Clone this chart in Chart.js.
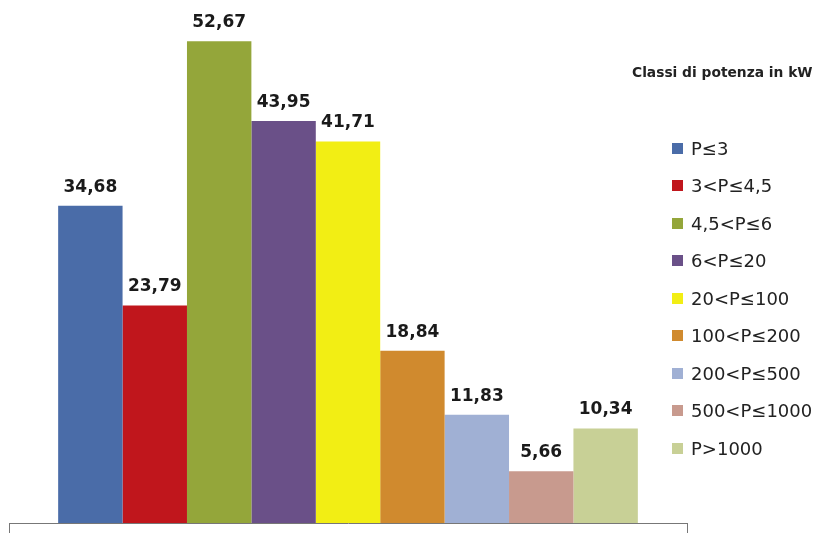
<!DOCTYPE html>
<html>
<head>
<meta charset="utf-8">
<script src="https://cdn.jsdelivr.net/npm/chart.js@4.4.1/dist/chart.umd.min.js"></script>
<style>
  html, body { margin: 0; padding: 0; background: #fff; }
  #wrap { position: relative; width: 818px; height: 533px; }
  #legend { position: absolute; left: 0; top: 0; width: 818px; height: 533px; pointer-events: none;
            font-family: "DejaVu Sans", sans-serif; color: #222; }
  #legend .title { position: absolute; left: 632px; top: 64px; font-size: 13.8px; font-weight: bold; white-space: nowrap; }
  #legend .item { position: absolute; left: 672px; height: 20px; display: flex; align-items: center;
                  font-size: 18px; white-space: nowrap; }
  #legend .box { width: 11px; height: 11px; margin-right: 8px; }
</style>
</head>
<body>
<div id="wrap">
  <canvas id="chart" width="818" height="533"></canvas>
  <div id="legend"></div>
</div>
<script>
// Classi di potenza (kW) e valori percentuali
const classes = ["P≤3", "3<P≤4,5", "4,5<P≤6", "6<P≤20", "20<P≤100",
                 "100<P≤200", "200<P≤500", "500<P≤1000", "P>1000"];
const values = [34.68, 23.79, 52.67, 43.95, 41.71, 18.84, 11.83, 5.66, 10.34];
const colors = ["#4a6ca8", "#c0161c", "#94a63a", "#6a5088", "#f2ee14",
                "#d08a2e", "#a0b0d4", "#c89a8e", "#c8d096"];
const legendTitle = "Classi di potenza in kW";

const fmt = (v) => v.toFixed(2).replace(".", ",");

// etichette dei valori sopra le barre
const valueLabels = {
  id: "valueLabels",
  afterDatasetsDraw(chart) {
    const ctx = chart.ctx;
    ctx.save();
    ctx.font = "bold 17px 'DejaVu Sans', sans-serif";
    ctx.fillStyle = "#1a1a1a";
    ctx.textAlign = "center";
    ctx.textBaseline = "bottom";
    chart.data.datasets.forEach((ds, i) => {
      const bar = chart.getDatasetMeta(i).data[0];
      ctx.fillText(fmt(ds.data[0]), bar.x, bar.y - 10);
    });
    ctx.restore();
  },
};

const chart = new Chart(document.getElementById("chart"), {
  type: "bar",
  data: {
    labels: [""],
    datasets: classes.map((c, i) => ({
      label: c,
      data: [values[i]],
      backgroundColor: colors[i],
      borderWidth: 0,
      categoryPercentage: 0.855,
      barPercentage: 1,
    })),
  },
  options: {
    responsive: false,
    animation: false,
    layout: { padding: { top: 20, left: 9, right: 131, bottom: 0 } },
    plugins: {
      legend: { display: false },
      tooltip: { enabled: false },
    },
    scales: {
      x: {
        grid: { drawOnChartArea: false, drawTicks: true, tickLength: 10, color: "#777", lineWidth: 1 },
        border: { display: true, color: "#777", width: 1 },
        ticks: { display: false },
      },
      y: { display: false, min: 0, max: 55 },
    },
  },
  plugins: [valueLabels],
});

// legenda a destra
const legendEl = document.getElementById("legend");
const t = document.createElement("div");
t.className = "title";
t.textContent = legendTitle;
legendEl.appendChild(t);
chart.data.datasets.forEach((ds, i) => {
  const it = document.createElement("div");
  it.className = "item";
  it.style.top = (138 + i * 37.5) + "px";
  const b = document.createElement("span");
  b.className = "box";
  b.style.background = ds.backgroundColor;
  it.appendChild(b);
  it.appendChild(document.createTextNode(ds.label));
  legendEl.appendChild(it);
});
</script>
</body>
</html>
